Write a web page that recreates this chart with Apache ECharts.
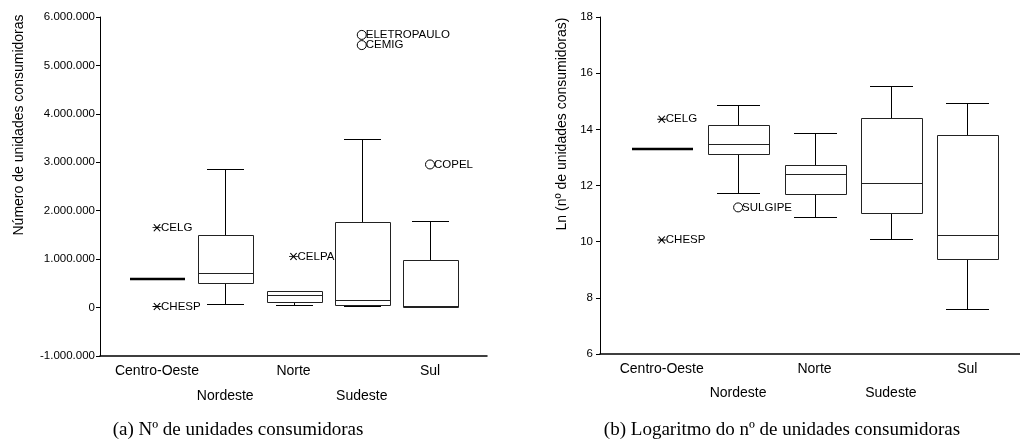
<!DOCTYPE html>
<html>
<head>
<meta charset="utf-8">
<title>Unidades consumidoras por região</title>
<script src="https://cdn.jsdelivr.net/npm/echarts@6/dist/echarts.min.js"></script>
<style>
  html, body { margin: 0; padding: 0; background: #fff; }
  #chart { width: 1020px; height: 443px; }
</style>
</head>
<body>
<div id="chart"></div>
<script>
// Regions on the horizontal axis (box positions 0..4)
const regions = ['Centro-Oeste', 'Nordeste', 'Norte', 'Sudeste', 'Sul'];
// Even positions sit on the upper label row, odd positions on the lower row
const upperRow = [0, 2, 4];
const lowerRow = [1, 3];

// Panel (a): number of consumer units — [low whisker, Q1, median, Q3, high whisker]
const countStats = [
  [590000, 590000, 590000, 590000, 590000],
  [75000, 505000, 718000, 1490000, 2865000],
  [50000, 118000, 250000, 352000, 352000],
  [24000, 50000, 166000, 1768000, 3486000],
  [2000, 12000, 28000, 980000, 1789000]
];
const countOutlierNames  = ['CELG', 'CHESP', 'CELPA', 'ELETROPAULO', 'CEMIG', 'COPEL'];
const countOutlierRegion = [0, 0, 2, 3, 3, 4];
const countOutlierValues = [1650000, 23000, 1056000, 5630000, 5420000, 2955000];
const countOutlierMarks  = ['*', '*', '*', 'o', 'o', 'o'];
const countTicks = { min: -1000000, max: 6000000, step: 1000000 };

// Panel (b): natural log of the number of consumer units
const logStats = [
  [13.29, 13.29, 13.29, 13.29, 13.29],
  [11.72, 13.13, 13.48, 14.17, 14.88],
  [10.87, 11.70, 12.42, 12.73, 13.87],
  [10.08, 11.01, 12.08, 14.39, 15.56],
  [7.61, 9.37, 10.24, 13.79, 14.93]
];
const logOutlierNames  = ['CELG', 'CHESP', 'SULGIPE'];
const logOutlierRegion = [0, 0, 1];
const logOutlierValues = [14.36, 10.06, 11.22];
const logOutlierMarks  = ['*', '*', 'o'];
const logTicks = { min: 6, max: 18, step: 2 };

const FONT = '"Liberation Sans", Arial, Helvetica, sans-serif';
const SERIF = '"Liberation Serif", "Times New Roman", serif';
const ASTERISK = 'path://M0,5L10,5M1.5,0.5L8.5,9.5M8.5,0.5L1.5,9.5';

function thousands(v) {
  const s = Math.abs(v).toString().replace(/\B(?=(\d{3})+(?!\d))/g, '.');
  return (v < 0 ? '-' : '') + s;
}

const crisp = v => Math.round(v) + 0.5;

// Box-and-whisker drawn through the axes' own coordinate system
function makeBoxRenderer(boxW, capW) {
  return function (params, api) {
    const x = api.value(0);
    const lo = api.coord([x, api.value(1)]);
    const q1 = api.coord([x, api.value(2)]);
    const md = api.coord([x, api.value(3)]);
    const q3 = api.coord([x, api.value(4)]);
    const hi = api.coord([x, api.value(5)]);
    const cx = crisp(lo[0]);
    const hb = api.size([boxW, 0])[0] / 2;
    const hc = api.size([capW, 0])[0] / 2;
    const line = { stroke: '#000', lineWidth: 1 };
    const degenerate = Math.abs(q1[1] - q3[1]) < 1;
    const children = [];
    if (Math.abs(hi[1] - q3[1]) >= 1) {
      children.push({ type: 'line', shape: { x1: cx, y1: crisp(q3[1]), x2: cx, y2: crisp(hi[1]) }, style: line });
      children.push({ type: 'line', shape: { x1: Math.round(cx - hc), y1: crisp(hi[1]), x2: Math.round(cx + hc), y2: crisp(hi[1]) }, style: line });
    }
    if (Math.abs(lo[1] - q1[1]) >= 1) {
      children.push({ type: 'line', shape: { x1: cx, y1: crisp(q1[1]), x2: cx, y2: crisp(lo[1]) }, style: line });
      children.push({ type: 'line', shape: { x1: Math.round(cx - hc), y1: crisp(lo[1]), x2: Math.round(cx + hc), y2: crisp(lo[1]) }, style: line });
    }
    if (!degenerate) {
      children.push({
        type: 'rect',
        shape: { x: Math.round(cx - hb) + 0.5, y: crisp(q3[1]), width: Math.round(2 * hb), height: Math.round(q1[1]) - Math.round(q3[1]) },
        style: { fill: '#fff', stroke: '#222', lineWidth: 1 }
      });
    }
    children.push({
      type: 'line',
      shape: { x1: Math.round(cx - hb), y1: degenerate ? Math.round(md[1]) : crisp(md[1]), x2: Math.round(cx + hb), y2: degenerate ? Math.round(md[1]) : crisp(md[1]) },
      style: { stroke: degenerate ? '#000' : '#222', lineWidth: degenerate ? 2.6 : 1 }
    });
    return { type: 'group', children: children };
  };
}

function boxData(stats) {
  return stats.map((s, i) => [i].concat(s));
}

function outlierData(region, values) {
  return values.map((v, i) => [region[i], v]);
}

// One axis per label row; only the upper-row axis draws the axis line
function xAxisFor(gridIndex, min, max, positions, margin, withLine) {
  return {
    type: 'value',
    gridIndex: gridIndex,
    position: 'bottom',
    min: min,
    max: max,
    axisLine: { show: withLine, onZero: false, lineStyle: { color: '#000', width: 1.5 } },
    axisTick: { show: false },
    splitLine: { show: false },
    axisLabel: {
      customValues: positions,
      showMinLabel: true,
      showMaxLabel: true,
      hideOverlap: false,
      color: '#000',
      fontFamily: FONT,
      fontSize: 14,
      lineHeight: 16,
      margin: margin,
      formatter: function (v) { return regions[Math.round(v)]; }
    }
  };
}

function yAxisFor(gridIndex, ticks, margin, formatter) {
  return {
    type: 'value',
    gridIndex: gridIndex,
    min: ticks.min,
    max: ticks.max,
    interval: ticks.step,
    axisLine: { show: true, onZero: false, lineStyle: { color: '#000', width: 1 } },
    axisTick: { show: true, length: 4, lineStyle: { color: '#000' } },
    splitLine: { show: false },
    axisLabel: { color: '#000', fontFamily: FONT, fontSize: 11.5, margin: margin, formatter: formatter }
  };
}

function outlierSeries(xi, yi, region, values, names, marks) {
  return {
    type: 'scatter',
    xAxisIndex: xi,
    yAxisIndex: yi,
    data: outlierData(region, values),
    symbol: function (val, p) { return marks[p.dataIndex] === '*' ? ASTERISK : 'circle'; },
    symbolSize: function (val, p) { return marks[p.dataIndex] === '*' ? [9, 7] : 9; },
    itemStyle: { color: 'transparent', borderColor: '#000', borderWidth: 1, opacity: 1 },
    label: {
      show: true,
      position: 'right',
      distance: -1,
      color: '#000',
      fontFamily: FONT,
      fontSize: 11.5,
      formatter: function (p) { return names[p.dataIndex]; }
    },
    emphasis: { disabled: true },
    z: 5
  };
}

const chart = echarts.init(document.getElementById('chart'), null, { renderer: 'canvas' });

chart.setOption({
  animation: false,
  backgroundColor: '#fff',
  title: [
    { text: '(a) Nº de unidades consumidoras', left: 238, top: 421, textAlign: 'center', padding: 0,
      textStyle: { fontFamily: SERIF, fontSize: 19, fontWeight: 'normal', color: '#000' } },
    { text: '(b) Logaritmo do nº de unidades consumidoras', left: 782, top: 421, textAlign: 'center', padding: 0,
      textStyle: { fontFamily: SERIF, fontSize: 19, fontWeight: 'normal', color: '#000' } }
  ],
  grid: [
    { left: 100, right: 533, top: 17, bottom: 87 },
    { left: 600, right: 0, top: 17, bottom: 89 }
  ],
  xAxis: [
    xAxisFor(0, -0.835, 4.835, upperRow, 7, true),
    xAxisFor(0, -0.835, 4.835, lowerRow, 32, false),
    xAxisFor(1, -0.808, 4.69, upperRow, 7, true),
    xAxisFor(1, -0.808, 4.69, lowerRow, 31, false)
  ],
  yAxis: [
    yAxisFor(0, countTicks, 5, thousands),
    yAxisFor(1, logTicks, 7, function (v) { return String(v); })
  ],
  graphic: [
    { type: 'text', x: 19, y: 125, rotation: Math.PI / 2,
      style: { text: 'Número de unidades consumidoras', fontFamily: FONT, fontSize: 14, fill: '#000', align: 'center', verticalAlign: 'middle' } },
    { type: 'text', x: 562, y: 124, rotation: Math.PI / 2,
      style: { text: 'Ln (nº de unidades consumidoras)', fontFamily: FONT, fontSize: 14, fill: '#000', align: 'center', verticalAlign: 'middle' } }
  ],
  series: [
    {
      type: 'custom', xAxisIndex: 0, yAxisIndex: 0,
      data: boxData(countStats),
      encode: { x: 0, y: [1, 2, 3, 4, 5] },
      renderItem: makeBoxRenderer(0.8, 0.55),
      z: 2
    },
    {
      type: 'custom', xAxisIndex: 2, yAxisIndex: 1,
      data: boxData(logStats),
      encode: { x: 0, y: [1, 2, 3, 4, 5] },
      renderItem: makeBoxRenderer(0.8, 0.57),
      z: 2
    },
    outlierSeries(0, 0, countOutlierRegion, countOutlierValues, countOutlierNames, countOutlierMarks),
    outlierSeries(2, 1, logOutlierRegion, logOutlierValues, logOutlierNames, logOutlierMarks)
  ]
});
</script>
</body>
</html>
